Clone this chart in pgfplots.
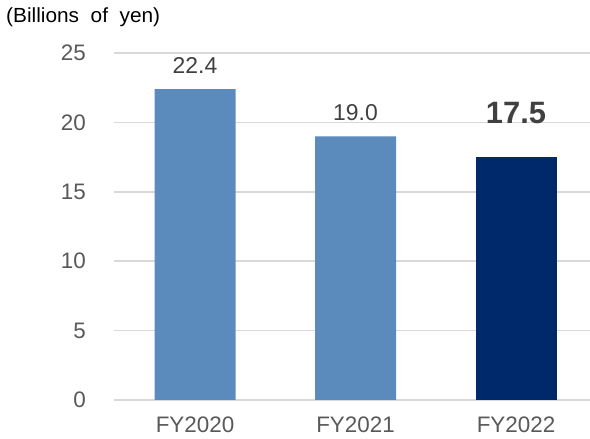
\documentclass[border=0pt]{standalone}
\usepackage{pgfplots}
\pgfplotsset{compat=1.18}
\usepackage{fontspec}
\setmainfont{Liberation Sans}
\definecolor{lightbar}{HTML}{5B8BBD}
\definecolor{darkbar}{HTML}{00296B}
\definecolor{tickgray}{HTML}{595959}
\definecolor{valgray}{HTML}{404040}
\definecolor{gridgray}{HTML}{D9D9D9}
\begin{document}
\begin{tikzpicture}
\path[use as bounding box] (0,0) rectangle (590bp,439bp);
\node[anchor=west, inner sep=0pt, text=black, font=\fontsize{20.5}{20.5}\selectfont, xscale=1.02] at (6bp,422bp) {(Billions\ \ of\ \ yen)};
\begin{axis}[
  at={(114bp,39bp)}, anchor=south west,
  scale only axis, width=476bp, height=347bp,
  xmin=-0.505, xmax=2.461, ymin=0, ymax=25,
  axis line style={draw=none},
  ybar, bar width=81bp,
  xtick={0,1,2}, xticklabels={FY2020,FY2021,FY2022},
  ytick={0,5,10,15,20,25},
  ymajorgrids, grid style={gridgray, line width=1.5bp},
  major tick length=0pt,
  tick label style={font=\fontsize{22.5}{22.5}\selectfont, text=tickgray},
  /pgf/number format/assume math mode=true,
  yticklabel style={anchor=east, inner sep=0pt, xshift=-28bp},
  xticklabel style={anchor=north, inner sep=0pt, yshift=-17bp},
  nodes near coords,
  nodes near coords style={font=\fontsize{23}{23}\selectfont, text=valgray, anchor=south, inner sep=0pt, yshift=15bp,
    /pgf/number format/fixed, /pgf/number format/precision=1, /pgf/number format/fixed zerofill, /pgf/number format/assume math mode=true},
]
\addplot[bar shift=0pt, fill=lightbar, draw=none] coordinates {(0,22.4) (1,19.0)};
\addplot[bar shift=0pt, fill=darkbar, draw=none,
  nodes near coords style={font=\bfseries\fontsize{31}{31}\selectfont, yshift=18bp}] coordinates {(2,17.5)};
\end{axis}
\end{tikzpicture}
\end{document}
